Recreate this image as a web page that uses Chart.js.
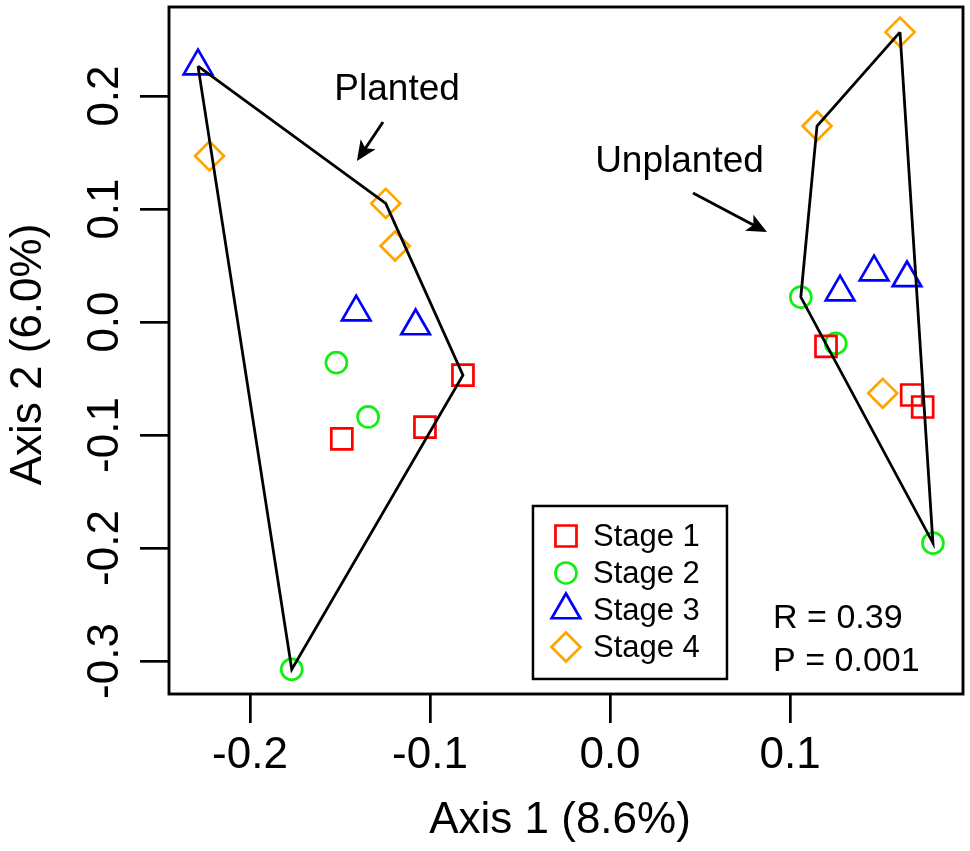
<!DOCTYPE html>
<html><head><meta charset="utf-8">
<script src="https://cdn.jsdelivr.net/npm/chart.js@4.4.1/dist/chart.umd.min.js"></script>
<style>html,body{margin:0;padding:0;background:#fff;}#wrap{width:970px;height:851px;}</style>
</head><body><div id="wrap"><canvas id="c"></canvas></div>
<script>
// ---- data ----
const stageNames = ['Stage 1', 'Stage 2', 'Stage 3', 'Stage 4'];
const stageColors = ['#FF0000', '#11EE11', '#0000FF', '#FFA500'];
const stageShapes = ['rect', 'circle', 'triangle', 'rectRot'];

const planted1X = [-0.0817, -0.1028, -0.1490];
const planted1Y = [-0.0470, -0.0930, -0.1035];
const planted2X = [-0.1520, -0.1344, -0.1768];
const planted2Y = [-0.0360, -0.0840, -0.3074];
const planted3X = [-0.2289, -0.1410, -0.1080];
const planted3Y = [0.2265, 0.0088, -0.0035];
const planted4X = [-0.2225, -0.1246, -0.1194];
const planted4Y = [0.1470, 0.1050, 0.0673];

const unplanted1X = [0.1200, 0.1676, 0.1737];
const unplanted1Y = [-0.0215, -0.0646, -0.0752];
const unplanted2X = [0.1060, 0.1254, 0.1794];
const unplanted2Y = [0.0221, -0.0189, -0.1956];
const unplanted3X = [0.1278, 0.1467, 0.1650];
const unplanted3Y = [0.0265, 0.0442, 0.0390];
const unplanted4X = [0.1611, 0.1150, 0.1515];
const unplanted4Y = [0.2566, 0.1735, -0.0631];

// hull vertices: [stage index, point index]
const plantedHull = [[2, 0], [3, 1], [0, 0], [1, 2]];
const unplantedHull = [[3, 0], [1, 2], [1, 0], [3, 1]];

const xTicks = [-0.2, -0.1, 0.0, 0.1];
const xTickLabels = ['-0.2', '-0.1', '0.0', '0.1'];
const yTicks = [-0.3, -0.2, -0.1, 0.0, 0.1, 0.2];
const yTickLabels = ['-0.3', '-0.2', '-0.1', '0.0', '0.1', '0.2'];
const xTitle = 'Axis 1 (8.6%)';
const yTitle = 'Axis 2 (6.0%)';
const statLines = ['R = 0.39', 'P = 0.001'];
const groupLabels = ['Planted', 'Unplanted'];

// ---- build ----
const plantedX = [planted1X, planted2X, planted3X, planted4X];
const plantedY = [planted1Y, planted2Y, planted3Y, planted4Y];
const unplantedX = [unplanted1X, unplanted2X, unplanted3X, unplanted4X];
const unplantedY = [unplanted1Y, unplanted2Y, unplanted3Y, unplanted4Y];

function pts(xs, ys) { return xs.map((x, i) => ({ x: x, y: ys[i] })); }
function hullPts(hull, X, Y) {
  const p = hull.map(([s, i]) => ({ x: X[s][i], y: Y[s][i] }));
  p.push(p[0]);
  return p;
}
const radii = [14.85, 10.5, 16.5, 14.5];

const datasets = [];
datasets.push({ type: 'line', label: 'hullP', data: hullPts(plantedHull, plantedX, plantedY),
  borderColor: '#000', borderWidth: 2.8, pointRadius: 0, fill: false, tension: 0, order: 0 });
datasets.push({ type: 'line', label: 'hullU', data: hullPts(unplantedHull, unplantedX, unplantedY),
  borderColor: '#000', borderWidth: 2.8, pointRadius: 0, fill: false, tension: 0, order: 0 });
for (let s = 0; s < 4; s++) {
  const d = pts(plantedX[s], plantedY[s]).concat(pts(unplantedX[s], unplantedY[s]));
  datasets.push({ type: 'scatter', label: stageNames[s], data: d,
    pointStyle: stageShapes[s], pointRadius: radii[s], pointBorderWidth: 2.7,
    borderColor: stageColors[s], backgroundColor: 'rgba(0,0,0,0)', order: 1 });
}

const FONT = '"Liberation Sans", Arial, Helvetica, sans-serif';

function arrow(ctx, x1, y1, x2, y2) {
  ctx.save();
  ctx.strokeStyle = '#000'; ctx.fillStyle = '#000'; ctx.lineWidth = 2.9;
  const a = Math.atan2(y2 - y1, x2 - x1);
  const len = 22, sp = 0.42;
  ctx.beginPath(); ctx.moveTo(x1, y1);
  ctx.lineTo(x2 - Math.cos(a) * len * 0.6, y2 - Math.sin(a) * len * 0.6); ctx.stroke();
  ctx.beginPath();
  ctx.moveTo(x2, y2);
  ctx.lineTo(x2 - len * Math.cos(a - sp), y2 - len * Math.sin(a - sp));
  ctx.lineTo(x2 - len * 0.7 * Math.cos(a), y2 - len * 0.7 * Math.sin(a));
  ctx.lineTo(x2 - len * Math.cos(a + sp), y2 - len * Math.sin(a + sp));
  ctx.closePath(); ctx.fill();
  ctx.restore();
}

const decor = {
  id: 'decor',
  afterDraw(chart) {
    const ctx = chart.ctx, ca = chart.chartArea;
    const xs = chart.scales.x, ys = chart.scales.y;
    ctx.save();
    // frame
    ctx.strokeStyle = '#000'; ctx.lineWidth = 2.9;
    ctx.strokeRect(ca.left, ca.top, ca.right - ca.left, ca.bottom - ca.top);
    // tick labels
    ctx.fillStyle = '#000';
    ctx.font = '44px ' + FONT;
    ctx.textAlign = 'center'; ctx.textBaseline = 'alphabetic';
    xTicks.forEach((v, i) => ctx.fillText(xTickLabels[i], xs.getPixelForValue(v), ca.bottom + 74));
    yTicks.forEach((v, i) => {
      ctx.save(); ctx.translate(ca.left - 51, ys.getPixelForValue(v)); ctx.rotate(-Math.PI / 2);
      ctx.fillText(yTickLabels[i], 0, 0); ctx.restore();
    });
    // axis titles
    ctx.fillText(xTitle, (ca.left + ca.right) / 2 - 6, ca.bottom + 139);
    ctx.save(); ctx.translate(41, (ca.top + ca.bottom) / 2 + 4); ctx.rotate(-Math.PI / 2);
    ctx.fillText(yTitle, 0, 0); ctx.restore();
    // group labels + arrows
    ctx.font = '37px ' + FONT;
    ctx.fillText(groupLabels[0], xs.getPixelForValue(-0.1183), ys.getPixelForValue(0.1965));
    ctx.fillText(groupLabels[1], xs.getPixelForValue(0.0386), ys.getPixelForValue(0.1327));
    arrow(ctx, xs.getPixelForValue(-0.1261), ys.getPixelForValue(0.1770),
               xs.getPixelForValue(-0.1406), ys.getPixelForValue(0.1425));
    arrow(ctx, xs.getPixelForValue(0.0461), ys.getPixelForValue(0.1142),
               xs.getPixelForValue(0.0872), ys.getPixelForValue(0.0796));
    // stats
    ctx.font = '34px ' + FONT; ctx.textAlign = 'left';
    const sx = xs.getPixelForValue(0.0906);
    ctx.fillText(statLines[0], sx, ys.getPixelForValue(-0.2708));
    ctx.fillText(statLines[1], sx, ys.getPixelForValue(-0.3088));
    // legend
    const lx = xs.getPixelForValue(-0.0428), ly = ys.getPixelForValue(-0.1628);
    ctx.lineWidth = 2.5; ctx.strokeStyle = '#000';
    ctx.strokeRect(lx, ly, 194, 173);
    ctx.font = '31px ' + FONT;
    for (let s = 0; s < 4; s++) {
      const cy = ly + 30 + s * 37;
      ctx.save();
      ctx.strokeStyle = stageColors[s]; ctx.fillStyle = 'rgba(0,0,0,0)'; ctx.lineWidth = 2.7;
      Chart.helpers.drawPoint(ctx, { pointStyle: stageShapes[s], radius: radii[s], rotation: 0, borderWidth: 2.7 }, lx + 33, cy);
      ctx.restore();
      ctx.fillStyle = '#000';
      ctx.fillText(stageNames[s], lx + 60, cy + 10.5);
    }
    ctx.restore();
  }
};

new Chart(document.getElementById('c'), {
  data: { datasets: datasets },
  options: {
    responsive: true, maintainAspectRatio: false, animation: false, events: [],
    layout: { autoPadding: false, padding: { top: 7, right: 7, left: 0, bottom: 0 } },
    plugins: { legend: { display: false }, tooltip: { enabled: false } },
    scales: {
      x: {
        type: 'linear', position: 'bottom', min: -0.245, max: 0.1961,
        afterBuildTicks: s => { s.ticks = xTicks.map(v => ({ value: v })); },
        afterFit: s => { s.height = 157; },
        ticks: { display: false },
        grid: { display: true, drawOnChartArea: false, drawTicks: true, tickLength: 29, color: '#000', lineWidth: 2.7 },
        border: { display: false }
      },
      y: {
        type: 'linear', position: 'left', min: -0.3292, max: 0.2788,
        afterBuildTicks: s => { s.ticks = yTicks.map(v => ({ value: v })); },
        afterFit: s => { s.width = 169; },
        ticks: { display: false },
        grid: { display: true, drawOnChartArea: false, drawTicks: true, tickLength: 29, color: '#000', lineWidth: 2.7 },
        border: { display: false }
      }
    }
  },
  plugins: [decor]
});
</script></body></html>
